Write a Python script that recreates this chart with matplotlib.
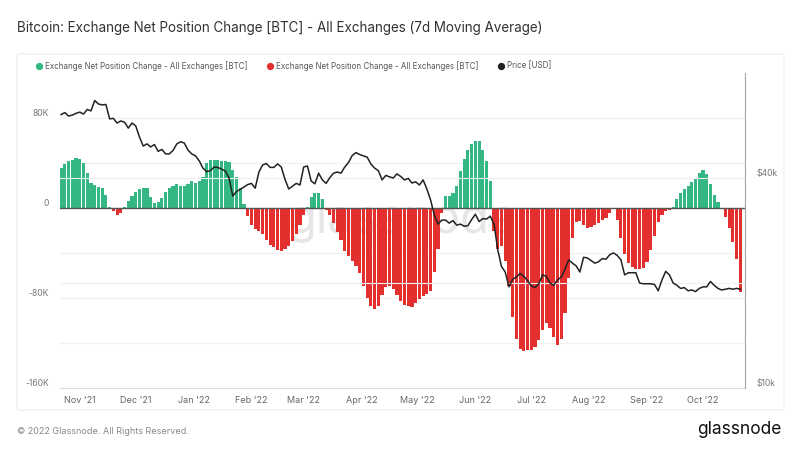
import numpy as np
import pandas as pd
import matplotlib
matplotlib.use("Agg")
import matplotlib.pyplot as plt
import matplotlib.dates as mdates
from matplotlib.lines import Line2D
from matplotlib.patches import FancyBboxPatch
from matplotlib.ticker import FixedLocator, NullFormatter

plt.rcParams['font.family'] = ['Inter', 'DejaVu Sans']

# 7d MA of exchange net position change, in K BTC, every 2 days from 22 Oct 2021
net_change_k = [
    36, 39, 41.5, 42.5, 44.5, 44, 40, 31, 22, 20.5,
    19, 17.5, 11.5, 1, -2.5, -6, -4, 1, 6, 10.5,
    14, 16.5, 17.7, 17.5, 10, 4.4, 5, 9, 14.5, 18,
    20, 21, 20, 20, 21.5, 24, 22.5, 24, 27.5, 40,
    43, 42.5, 42.5, 42, 42, 41, 34, 27.5, 18, 4,
    -7, -15, -19, -20.5, -23, -28, -32.5, -35, -37, -37.8,
    -36.5, -33.5, -29, -22.7, -15, -6, 1, 10, 13.5, 13,
    8, -2, -6.5, -13, -21.5, -28, -38.5, -43, -47, -51.5,
    -58, -69, -80, -87.5, -89.6, -87, -77.5, -70, -69.7, -72,
    -77, -82.5, -86, -87.5, -88, -84.5, -81, -78.5, -76.5, -74,
    -57, -36, -4, 11, 10.5, 13.5, 20, 33, 44, 52,
    57, 60, 59.5, 52, 41.5, 24, -20, -36, -34, -47,
    -69.7, -97, -116, -125, -127, -126.5, -125.8, -123.5, -117, -108,
    -102.5, -107, -115, -121.5, -116, -93, -62, -27, -12, -11.5,
    -15.5, -17.5, -17, -15.5, -13.5, -11, -8.5, -4, -1, -11,
    -27, -41, -48.5, -52.6, -54, -54, -53, -48, -37, -25,
    -12.5, -6, -3, -1.5, 1, 8, 13.5, 17.2, 20, 23,
    26.5, 31.5, 34, 30, 21, 12, 5, -1, -8, -18,
    -30, -45, -75,
]

# BTC price in USD (thousands), same dates
price_k = [
    60.8, 61.6, 60.2, 60.6, 61.3, 61.8, 61.0, 62.9, 62.3, 66.7,
    65.2, 64.8, 65.0, 59.1, 59.3, 57.5, 58.3, 57.8, 55.6, 57.5,
    56.4, 52.4, 49.4, 50.1, 49.1, 49.9, 47.7, 48.3, 46.9, 46.9,
    48.0, 50.1, 50.8, 50.4, 48.1, 46.9, 46.3, 44.8, 42.7, 41.7,
    42.0, 43.0, 42.9, 42.4, 41.9, 40.0, 35.5, 36.6, 37.1, 37.7,
    38.3, 38.6, 37.4, 41.6, 43.6, 44.0, 42.9, 42.9, 43.9, 43.0,
    39.6, 37.2, 37.9, 38.6, 38.2, 43.0, 43.3, 39.2, 38.5, 41.3,
    39.5, 38.6, 40.1, 41.3, 41.6, 41.3, 43.0, 44.3, 46.4, 47.3,
    46.7, 46.3, 45.9, 43.9, 42.7, 42.0, 39.5, 40.7, 40.3, 40.0,
    41.1, 40.4, 39.5, 39.9, 38.7, 39.0, 38.2, 39.5, 37.2, 34.6,
    31.3, 29.5, 30.3, 30.3, 29.7, 30.2, 29.3, 29.5, 29.1, 29.2,
    30.4, 31.5, 30.0, 30.6, 30.5, 31.1, 29.5, 24.9, 22.3, 21.5,
    19.5, 20.5, 20.8, 21.3, 20.9, 20.3, 19.6, 19.4, 19.9, 21.1,
    20.9, 20.0, 19.7, 20.4, 20.8, 21.9, 23.3, 22.8, 22.4, 21.5,
    23.7, 23.6, 23.2, 22.8, 23.0, 23.5, 23.4, 24.1, 24.4, 24.0,
    23.3, 21.1, 21.4, 21.4, 21.4, 20.0, 19.9, 19.9, 19.9, 19.8,
    19.0, 20.4, 21.6, 21.1, 20.0, 19.7, 19.3, 19.4, 19.0, 19.1,
    18.9, 19.3, 19.5, 19.5, 20.2, 19.7, 19.3, 19.1, 19.2, 19.3,
    19.2, 19.3, 19.2,
]

dates = pd.date_range("2021-10-22", periods=len(net_change_k), freq="2D")
net = np.array(net_change_k) * 1000
price = np.array(price_k) * 1000

GREEN = '#34b783'
RED = '#e3302f'

fig = plt.figure(figsize=(8, 4.5), dpi=100)
fig.patch.set_facecolor('white')

# card outline
card = FancyBboxPatch((17 / 800, 1 - 410 / 450), (784 - 17) / 800, (410 - 54) / 450,
                      boxstyle="round,pad=0,rounding_size=0.004", transform=fig.transFigure,
                      facecolor='none', edgecolor='#ececec', linewidth=0.8, zorder=-1)
fig.patches.append(card)

ax = fig.add_axes([60 / 800, 1 - 388 / 450, (745 - 60) / 800, (388 - 73) / 450])
ax.set_facecolor('none')

# watermark
ax.text(0.5, 0.53, 'glassnode', transform=ax.transAxes, ha='center', va='center',
        fontsize=34, color='#e6e6e6', zorder=0)

colors = [GREEN if v >= 0 else RED for v in net]
ax.bar(dates, net, width=1.7, color=colors, linewidth=0, zorder=2)
ax.axhline(0, color='#555555', linewidth=1.0, zorder=3)

ax.set_ylim(-160000, 120000)
ax.set_xlim(pd.Timestamp("2021-10-22") - pd.Timedelta(days=0.6),
            pd.Timestamp("2021-10-22") + pd.Timedelta(days=366.5))
ax.set_yticks([-160000, -80000, 0, 80000])
ax.set_yticklabels(['-160K', '-80K', '0', '80K'])
ax.yaxis.set_minor_locator(FixedLocator([-120000, -40000, 40000]))
ax.grid(axis='y', which='both', color='#f0f0f0', linewidth=0.8, zorder=0)
ax.tick_params(axis='y', which='both', length=0, pad=8, labelsize=6.2, labelcolor='#777777')
for lab in ax.get_yticklabels():
    lab.set_verticalalignment('bottom')

ax.xaxis.set_major_locator(mdates.MonthLocator())
ax.xaxis.set_major_formatter(mdates.DateFormatter("%b '%y"))
ax.tick_params(axis='x', length=0, pad=6, labelsize=6.5, labelcolor='#666666')

for s in ['top', 'left']:
    ax.spines[s].set_visible(False)
ax.spines['bottom'].set_color('#dddddd')
ax.spines['right'].set_visible(False)

ax2 = ax.twinx()
ax2.set_yscale('log')
ax2.set_ylim(10000, 80000)
ax2.plot(dates, price, color='#222222', linewidth=1.1, zorder=4)
ax2.yaxis.set_major_locator(FixedLocator([10000, 40000]))
ax2.yaxis.set_minor_locator(FixedLocator([20000]))
ax2.yaxis.set_minor_formatter(NullFormatter())
ax2.set_yticklabels(['$10k', '$40k'])
ax2.tick_params(axis='y', which='both', length=0, pad=8, labelsize=6.2, labelcolor='#777777')
for lab in ax2.get_yticklabels():
    lab.set_verticalalignment('bottom')
ax2.grid(axis='y', which='both', color='#f0f0f0', linewidth=0.8)
for s in ['top', 'left', 'bottom']:
    ax2.spines[s].set_visible(False)
ax2.spines['right'].set_color('#aaaaaa')
ax2.spines['right'].set_linewidth(0.9)

# title
fig.text(17 / 800, 1 - 28 / 450, 'Bitcoin: Exchange Net Position Change [BTC] - All Exchanges (7d Moving Average)',
         fontsize=9.7, color='#333333', va='center', ha='left')

# legend
legend_items = [
    (39, GREEN, 'Exchange Net Position Change - All Exchanges [BTC]'),
    (270, RED, 'Exchange Net Position Change - All Exchanges [BTC]'),
    (501, '#222222', 'Price [USD]'),
]
for lx, c, lbl in legend_items:
    fig.add_artist(Line2D([lx / 800], [1 - 66 / 450], marker='o', markersize=4.2,
                          color=c, linestyle='none', transform=fig.transFigure))
    fig.text((lx + 6) / 800, 1 - 66 / 450, lbl, fontsize=5.75, color='#555555', va='center', ha='left')

# footer
fig.text(17 / 800, 1 - 431 / 450, '\u00a9 2022 Glassnode. All Rights Reserved.',
         fontsize=6.5, color='#888888', va='center', ha='left')
fig.text(781 / 800, 1 - 430 / 450, 'glassnode', fontsize=12.5, color='#111111',
         va='center', ha='right')

fig.savefig('out.png', dpi=100)
